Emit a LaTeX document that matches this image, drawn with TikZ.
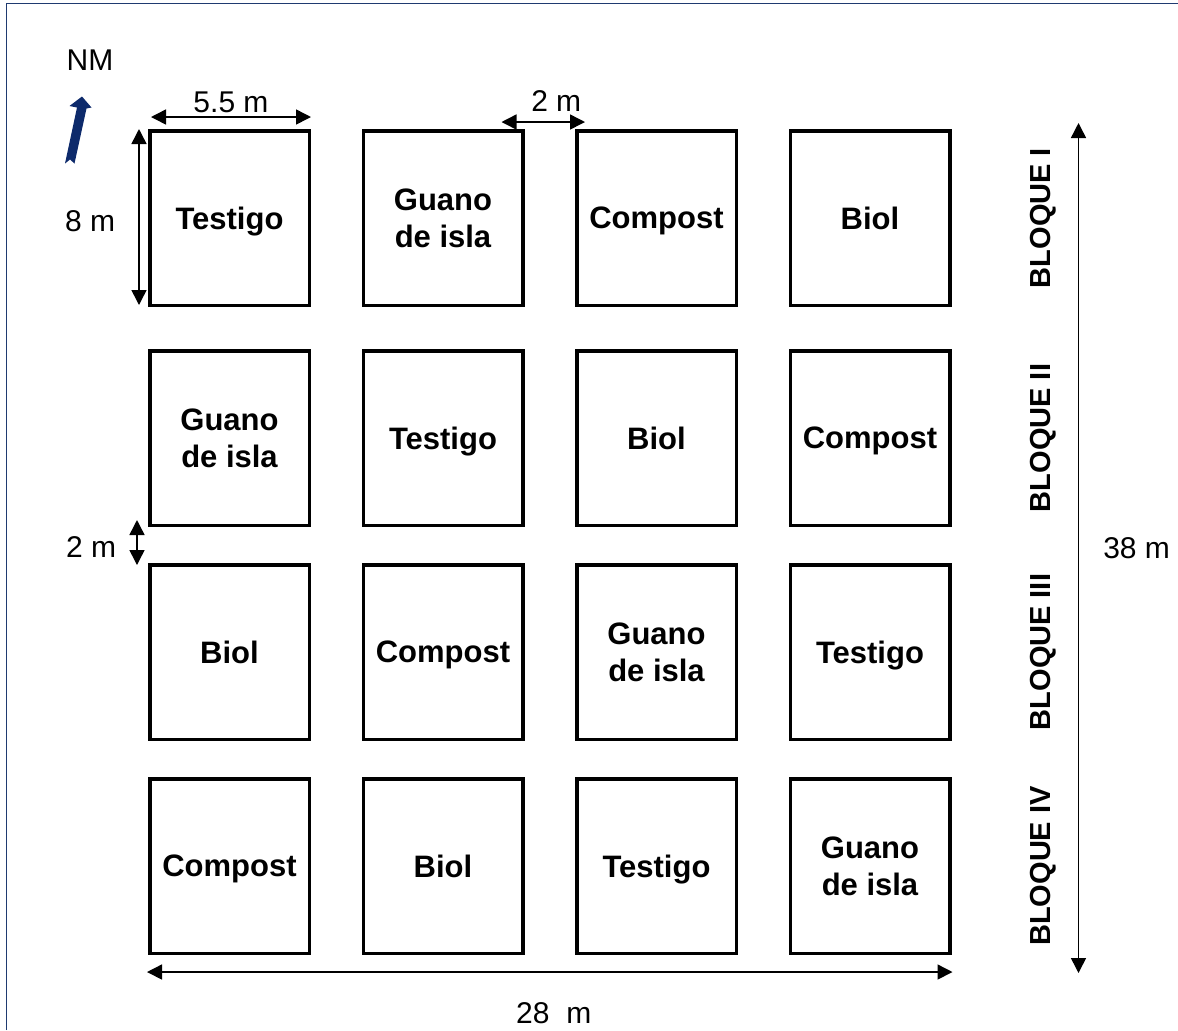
\documentclass[tikz,border=0pt]{standalone}
\usepackage{fontspec}
\setmainfont{Liberation Sans}
\definecolor{navyarrow}{HTML}{0D2A6B}
\definecolor{frameblue}{HTML}{1F3A70}
\usetikzlibrary{arrows.meta}

\begin{document}
\begin{tikzpicture}[x=0.5pt, y=-0.5pt,
		plot/.style={draw, line width=1.75pt, minimum width=79.75pt, minimum height=87.25pt, align=center, inner sep=0pt, text depth=0pt, font=\fontsize{15.5}{18.5}\selectfont\bfseries},
		bloque/.style={rotate=90, inner sep=0pt, font=\fontsize{14.5}{18}\selectfont\bfseries},
		lbl/.style={inner sep=0pt, font=\fontsize{15}{18}\selectfont},
		dim/.style={{Triangle[length=7.5pt,width=7.5pt]}-{Triangle[length=7.5pt,width=7.5pt]}, line width=0.75pt}
	]
	\useasboundingbox (0,0) rectangle (1178,1030);

	% Frame
	\draw[frameblue, line width=0.6pt] (6.5,1030) -- (6.5,3.5) -- (1178,3.5);

	% North
	\node[lbl] (nm) at (90,60) {NM};
	\fill[navyarrow] (82,96.5) -- (91.5,107.5) -- (86.5,108.5) -- (74.5,163.5) -- (70,159.5)
		-- (65,163.5) -- (77,107.5) -- (69.5,106) -- cycle;

	% Plots
	\foreach \r/\y/\labs in {1/218/{Testigo,Guano\\de isla,Compost,Biol},
			2/438/{Guano\\de isla,Testigo,Biol,Compost},
			3/652/{Biol,Compost,Guano\\de isla,Testigo},
			4/866/{Compost,Biol,Testigo,Guano\\de isla}} {
			\foreach \t [count=\c] in \labs {
					\node[plot] (t\r\c) at ({229.5+(\c-1)*213.5}, \y) {\t};
				}
		}

	% Bloques
	\foreach \r/\n in {1/I,2/II,3/III,4/IV} {
			\node[bloque] (b\r) at ([xshift=86.5pt]t\r4.center) {BLOQUE \n};
		}

	% Dimensions
	\draw[dim] ([shift={(1.5pt,6pt)}]t11.north west) -- ([yshift=6pt]t11.north east)
		node[lbl, midway, above=1.5pt] (d55) {5.5 m};
	\draw[dim] ([xshift=-4.5pt]t11.north west) -- ([shift={(-4.5pt,1pt)}]t11.south west)
		node[lbl, midway, left=11.5pt, yshift=-2pt] (d8) {8 m};
	\draw[dim] ([shift={(-11.5pt,3.5pt)}]t12.north east) -- ([shift={(5pt,3.5pt)}]t13.north west)
		node[lbl, midway, above=5pt, xshift=6.5pt] (d2a) {2 m};
	\draw[dim] ([shift={(-5.5pt,3.5pt)}]t21.south west) -- ([shift={(-5.5pt,-1pt)}]t31.north west)
		node[lbl, midway, left=10pt, yshift=-2.5pt] (d2b) {2 m};
	\draw[dim] ([shift={(-0.5pt,-8.5pt)}]t41.south west) -- ([shift={(0.5pt,-8.5pt)}]t44.south east)
		node[lbl, midway, below=15pt, xshift=2pt] (d28) {28\ \ m};
	\draw[dim] ([shift={(63.5pt,3pt)}]t14.north east) -- ([shift={(63.5pt,-9pt)}]t44.south east)
		node[lbl, midway, right=12pt] (d38) {38 m};
\end{tikzpicture}
\end{document}
